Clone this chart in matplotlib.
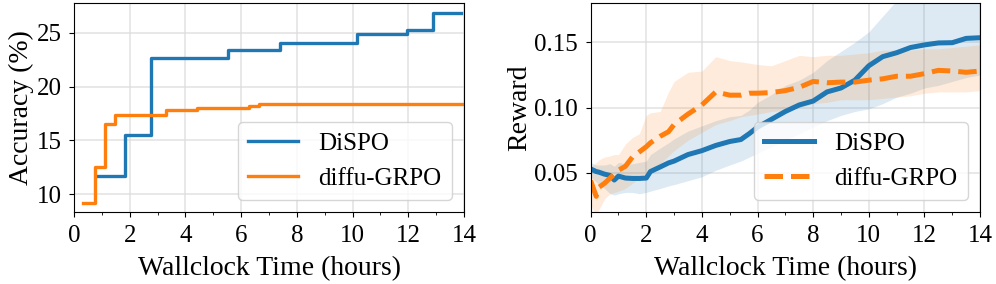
import numpy as np
import matplotlib
matplotlib.use("Agg")
import matplotlib.pyplot as plt
from matplotlib.ticker import MultipleLocator

plt.rcParams['font.family'] = ['Liberation Serif', 'DejaVu Serif']

# left panel: best accuracy so far (step curves)
dispo_acc_t = [0.81, 1.84, 2.76, 5.54, 7.40, 10.15, 11.97, 12.90, 13.88]
dispo_acc = [11.7, 15.55, 22.65, 23.35, 24.05, 24.85, 25.25, 26.85, 26.85]
grpo_acc_t = [0.34, 0.75, 1.10, 1.46, 3.30, 4.43, 6.27, 6.63, 14.0]
grpo_acc = [9.25, 12.55, 16.55, 17.4, 17.85, 18.05, 18.2, 18.4, 18.4]

# right panel: reward with spread
hours = [0, 0.1, 0.2, 0.3, 0.5, 0.7, 0.85, 1.0, 1.25, 1.5, 1.75, 2.0, 2.15, 2.5,
         2.8, 3.0, 3.5, 4.0, 4.5, 5.0, 5.4, 5.7, 6.0, 6.5, 7.0, 7.5, 8.0, 8.5,
         9.0, 9.5, 10.0, 10.5, 11.0, 11.5, 12.0, 12.5, 13.0, 13.5, 14.0]
dispo_rew = [0.053, 0.052, 0.051, 0.0505, 0.049, 0.048, 0.0445, 0.0475, 0.046, 0.0457,
             0.0457, 0.046, 0.051, 0.0545, 0.0576, 0.059, 0.064, 0.067, 0.071, 0.074,
             0.0755, 0.080, 0.085, 0.091, 0.097, 0.102, 0.105, 0.112, 0.115, 0.121,
             0.132, 0.139, 0.142, 0.146, 0.148, 0.1495, 0.1497, 0.153, 0.1535]
dispo_lo = [0.047, 0.045, 0.043, 0.041, 0.038, 0.034, 0.033, 0.034, 0.035, 0.035,
            0.034, 0.035, 0.036, 0.038, 0.040, 0.041, 0.044, 0.047, 0.052, 0.056,
            0.059, 0.062, 0.065, 0.070, 0.075, 0.080, 0.085, 0.090, 0.094, 0.097,
            0.099, 0.103, 0.108, 0.111, 0.115, 0.117, 0.120, 0.123, 0.125]
dispo_hi = [0.058, 0.057, 0.056, 0.056, 0.056, 0.057, 0.055, 0.058, 0.057, 0.057,
            0.058, 0.059, 0.064, 0.069, 0.073, 0.076, 0.082, 0.086, 0.090, 0.093,
            0.094, 0.098, 0.104, 0.110, 0.117, 0.121, 0.127, 0.136, 0.143, 0.150,
            0.158, 0.170, 0.182, 0.190, 0.190, 0.188, 0.186, 0.185, 0.185]
grpo_rew = [0.044, 0.038, 0.032, 0.039, 0.042, 0.046, 0.049, 0.052, 0.055, 0.062,
            0.066, 0.070, 0.073, 0.078, 0.0815, 0.087, 0.095, 0.102, 0.112, 0.1095,
            0.1095, 0.111, 0.111, 0.1115, 0.113, 0.1155, 0.120, 0.119, 0.1195, 0.1195,
            0.121, 0.122, 0.124, 0.124, 0.126, 0.1285, 0.128, 0.127, 0.128]
grpo_lo = [0.026, 0.021, 0.018, 0.022, 0.030, 0.034, 0.035, 0.036, 0.038, 0.042,
           0.046, 0.050, 0.052, 0.057, 0.063, 0.067, 0.075, 0.081, 0.087, 0.090,
           0.093, 0.094, 0.095, 0.097, 0.098, 0.100, 0.103, 0.104, 0.106, 0.106,
           0.106, 0.107, 0.108, 0.109, 0.111, 0.112, 0.112, 0.112, 0.113]
grpo_hi = [0.055, 0.056, 0.058, 0.060, 0.062, 0.063, 0.064, 0.064, 0.072, 0.077,
           0.080, 0.094, 0.096, 0.097, 0.112, 0.120, 0.127, 0.128, 0.139, 0.136,
           0.135, 0.134, 0.133, 0.132, 0.136, 0.140, 0.139, 0.140, 0.140, 0.141,
           0.142, 0.144, 0.144, 0.144, 0.145, 0.145, 0.146, 0.147, 0.148]

blue = '#1f77b4'
orange = '#ff7f0e'

fig = plt.figure(figsize=(9.96, 2.84), dpi=100)
ax1 = fig.add_axes([0.0743, 0.2535, 0.3916, 0.7355])
ax2 = fig.add_axes([0.593, 0.2535, 0.391, 0.7355])

ax1.step(dispo_acc_t, dispo_acc, where='post', color=blue, lw=2.4, label='DiSPO')
ax1.step(grpo_acc_t, grpo_acc, where='post', color=orange, lw=2.4, label='diffu-GRPO')
ax1.set_xlim(0, 14)
ax1.set_ylabel('Accuracy (%)', fontsize=20, labelpad=1.5)
ax1.set_yticks([10, 15, 20, 25])

ax2.fill_between(hours, dispo_lo, dispo_hi, color=blue, alpha=0.15, lw=0)
ax2.fill_between(hours, grpo_lo, grpo_hi, color=orange, alpha=0.15, lw=0)
ax2.plot(hours, dispo_rew, color=blue, lw=3.6, label='DiSPO')
ax2.plot(hours, grpo_rew, color=orange, lw=3.6, ls='--', label='diffu-GRPO')
ax2.set_xlim(0, 14)
ax2.set_ylim(0.02, 0.18)
ax2.set_yticks([0.05, 0.10, 0.15])
ax2.set_yticklabels(['0.05', '0.10', '0.15'])
ax2.set_ylabel('Reward', fontsize=20, labelpad=1.5)

for ax in (ax1, ax2):
    ax.set_xlabel('Wallclock Time (hours)', fontsize=20, labelpad=7)
    ax.xaxis.set_major_locator(MultipleLocator(2))
    ax.xaxis.set_minor_locator(MultipleLocator(1))
    ax.tick_params(labelsize=18, pad=5.5)
    ax.grid(True, color='#dddddd', lw=1.2, alpha=0.8)
    ax.set_axisbelow(True)
    ax.legend(loc='lower right', fontsize=18)

fig.savefig('out.png', dpi=100)
